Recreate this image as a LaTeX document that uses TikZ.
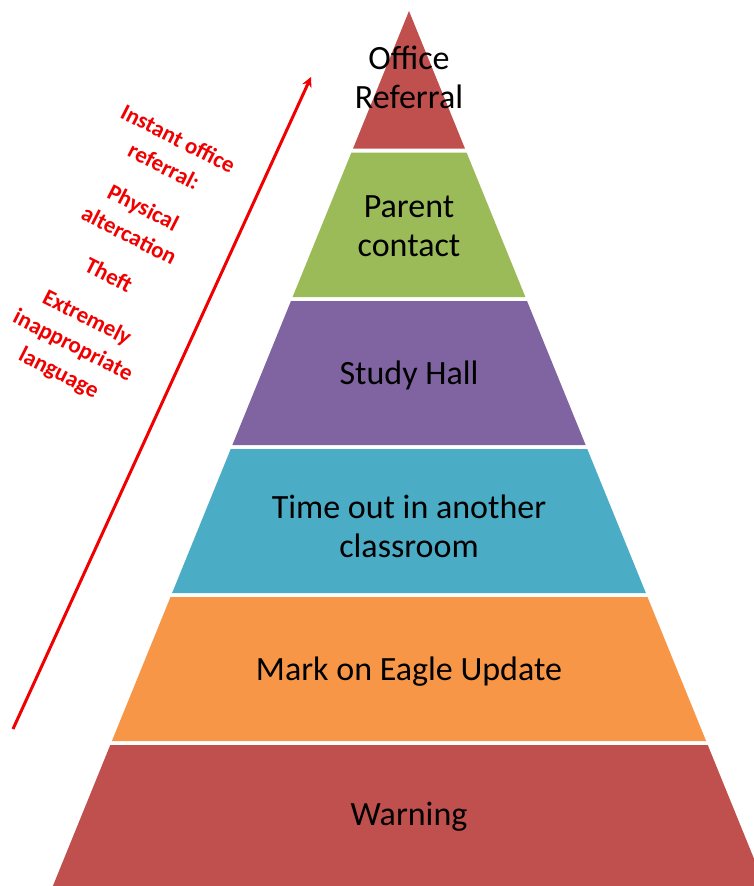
\documentclass[tikz,border=0pt]{standalone}
\usepackage{fontspec}
\setmainfont{Carlito}
\usetikzlibrary{arrows.meta}
\definecolor{lyrred}{HTML}{C0504D}
\definecolor{lyrgreen}{HTML}{9BBB59}
\definecolor{lyrpurple}{HTML}{8064A2}
\definecolor{lyrteal}{HTML}{4BACC6}
\definecolor{lyrorange}{HTML}{F79646}
\definecolor{notered}{HTML}{F00000}
\newcommand\pyrlayer[3]{%
  \pgfmathsetmacro\pyrLT{409-0.407*(#1-11)}%
  \pgfmathsetmacro\pyrRT{409+0.407*(#1-11)}%
  \pgfmathsetmacro\pyrLB{409-0.407*(#2-11)}%
  \pgfmathsetmacro\pyrRB{409+0.407*(#2-11)}%
  \fill[#3] (\pyrLT,#1) -- (\pyrRT,#1) -- (\pyrRB,#2) -- (\pyrLB,#2) -- cycle;}
\begin{document}
\begin{tikzpicture}[x=1pt,y=-1pt,
  layertext/.style={align=center, font=\fontsize{34}{39}\selectfont, text=black, inner sep=0pt},
  notetext/.style={align=center, font=\fontsize{23}{31}\selectfont\bfseries, text=notered, inner sep=0pt, rotate=-27},
  arrowline/.style={draw=notered, line width=3pt, -{Stealth[length=10pt,width=10pt]}}]
\useasboundingbox (0,0) rectangle (754,886);
\begin{scope}
\clip (0,0) rectangle (754,886);
\pyrlayer{11}{148.5}{lyrred}
\pyrlayer{152.5}{297}{lyrgreen}
\pyrlayer{301}{445}{lyrpurple}
\pyrlayer{449}{593}{lyrteal}
\pyrlayer{597}{741}{lyrorange}
\pyrlayer{745}{890}{lyrred}
\end{scope}
\node[layertext] (office) at (409,77) {Office\\Referral};
\node[layertext] (parent) at (409,226) {Parent\\contact};
\node[layertext] (study) at (409,375) {Study Hall};
\node[layertext] (timeout) at (409,526) {Time out in another\\classroom};
\node[layertext] (mark) at (409,672) {Mark on Eagle Update};
\node[layertext] (warning) at (409,817) {Warning};
\coordinate (arrowstart) at (13,729);
\coordinate (arrowend) at (311,77);
\draw[arrowline] (arrowstart) -- (arrowend);
\node[notetext] (note) at (118,257) {Instant office\\referral:\\[15pt]Physical\\altercation\\[14pt]Theft\\[16pt]Extremely\\inappropriate\\language};
\end{tikzpicture}
\end{document}
